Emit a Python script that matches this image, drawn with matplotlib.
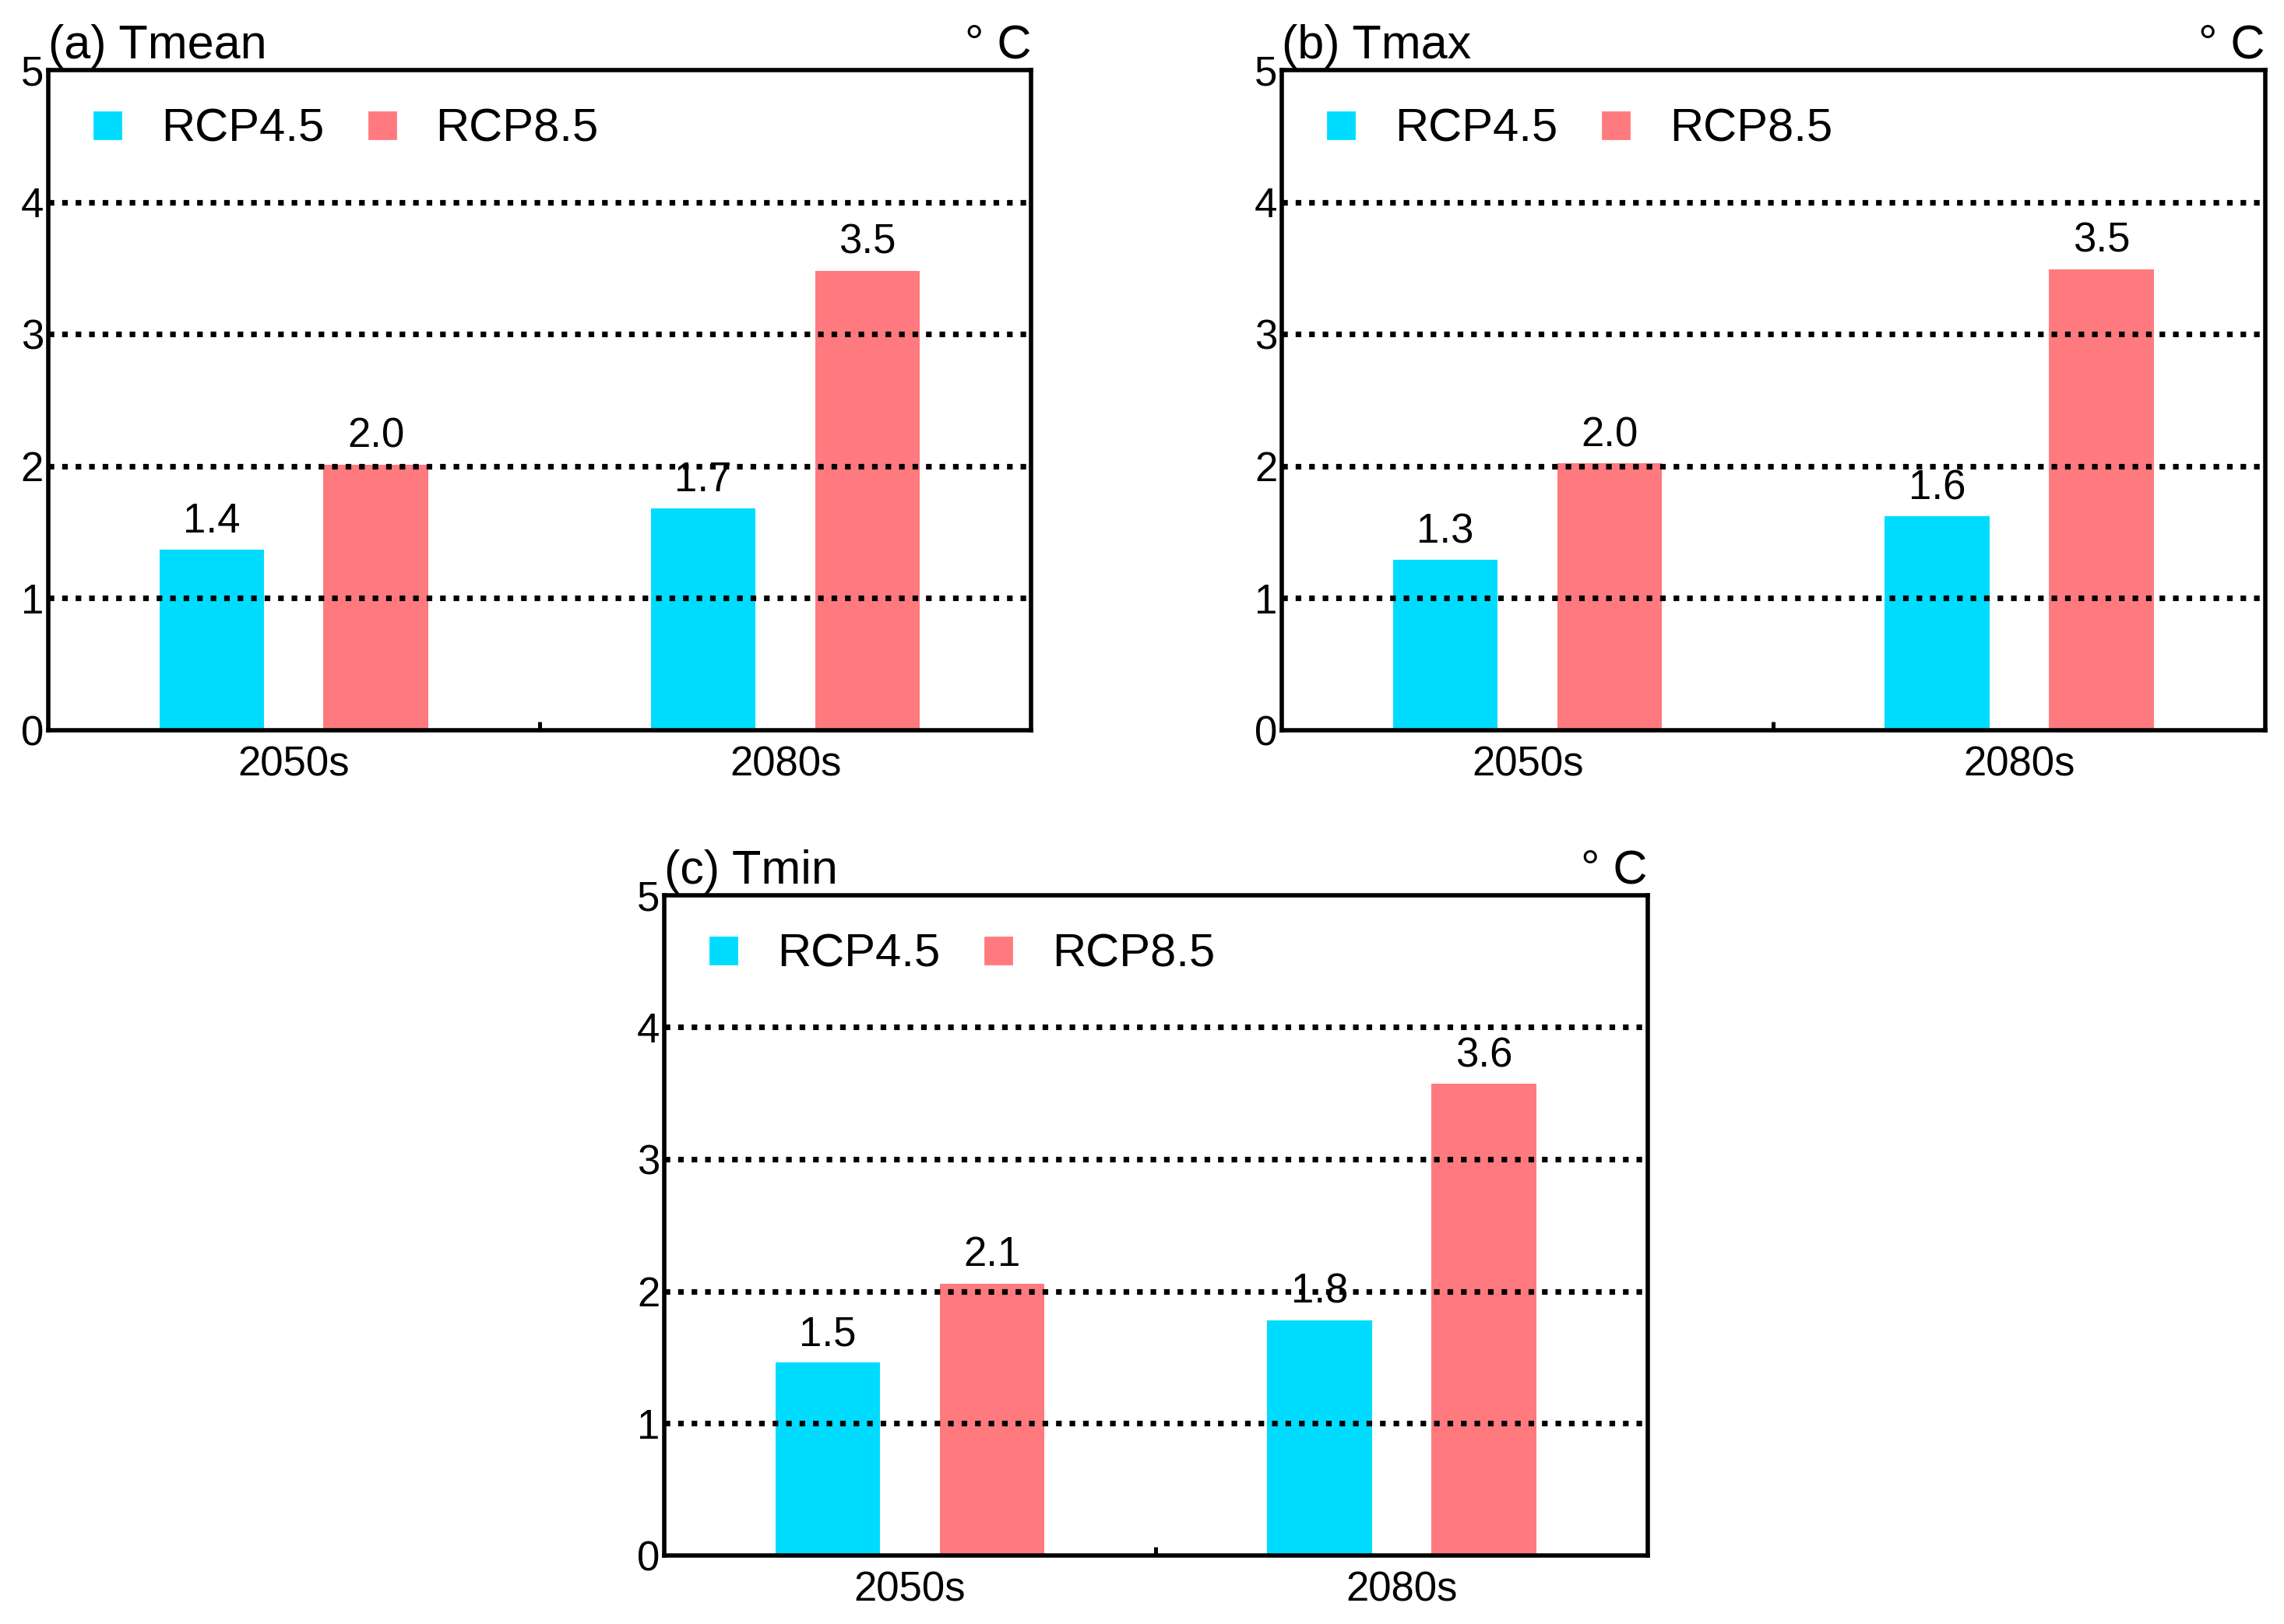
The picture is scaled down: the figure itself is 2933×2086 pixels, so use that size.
import matplotlib
matplotlib.use("Agg")
import matplotlib.pyplot as plt
from matplotlib.lines import Line2D
import numpy as np

plt.rcParams['font.family'] = ['Liberation Sans', 'DejaVu Sans']

categories = ["2050s", "2080s"]
series_names = ["RCP4.5", "RCP8.5"]
colors = ["#00DCFF", "#FF7A7E"]

panel_titles = ["(a) Tmean", "(b) Tmax", "(c) Tmin"]
tmean_rcp45 = [1.37, 1.68]
tmean_rcp85 = [2.01, 3.48]
tmax_rcp45 = [1.29, 1.62]
tmax_rcp85 = [2.02, 3.49]
tmin_rcp45 = [1.46, 1.78]
tmin_rcp85 = [2.06, 3.57]
yticks = [0, 1, 2, 3, 4, 5]
unit_label = "° C"

panels = [
    (panel_titles[0], tmean_rcp45, tmean_rcp85),
    (panel_titles[1], tmax_rcp45, tmax_rcp85),
    (panel_titles[2], tmin_rcp45, tmin_rcp85),
]

fig = plt.figure(figsize=(14.665, 10.43), dpi=200)
positions = [
    [0.021, 0.5503, 0.4305, 0.4066],
    [0.5612, 0.5503, 0.4305, 0.4066],
    [0.2908, 0.0422, 0.4305, 0.4066],
]

bar_w = 0.213
offset = 0.167
x = np.arange(len(categories))

for pos, (title, s45, s85) in zip(positions, panels):
    ax = fig.add_axes(pos)
    for i, (vals, col) in enumerate(zip([s45, s85], colors)):
        xs = x + (-offset if i == 0 else offset)
        ax.bar(xs, vals, width=bar_w, color=col, zorder=2)
        for xi, v in zip(xs, vals):
            ax.annotate(f"{v:.1f}", (xi, v), xytext=(0, 4), textcoords="offset points",
                        ha="center", va="bottom", fontsize=19, zorder=4)
    for yv in yticks[1:-1]:
        ax.axhline(yv, color="black", lw=2.6, linestyle=(0, (1, 1.4)), zorder=3)
    ax.set_xlim(-0.5, 1.5)
    ax.set_ylim(0, 5)
    ax.set_yticks(yticks)
    ax.set_yticklabels([str(t) for t in yticks])
    ax.tick_params(axis="y", length=0, pad=2, labelsize=19)
    ax.set_xticks([0.5])
    ax.set_xticklabels([""])
    ax.tick_params(axis="x", which="major", direction="in", length=4, width=1.8)
    ax.set_xticks(x, minor=True)
    ax.set_xticklabels(categories, minor=True)
    ax.tick_params(axis="x", which="minor", length=0, pad=7, labelsize=19)
    for sp in ax.spines.values():
        sp.set_linewidth(2.0)
    ax.text(0.0, 1.018, title, transform=ax.transAxes, ha="left", va="baseline", fontsize=22)
    ax.text(1.0, 1.018, unit_label, transform=ax.transAxes, ha="right", va="baseline", fontsize=22)
    handles = [Line2D([], [], marker="s", linestyle="none", markersize=12,
                      markerfacecolor=c, markeredgecolor=c) for c in colors]
    ax.legend(handles, series_names, loc="center left", bbox_to_anchor=(0.044, 0.91),
              ncol=2, frameon=False, fontsize=21.5, handlelength=0.7, handletextpad=0.8,
              columnspacing=0.9, borderpad=0, borderaxespad=0)

fig.savefig("out.png", dpi=200)
